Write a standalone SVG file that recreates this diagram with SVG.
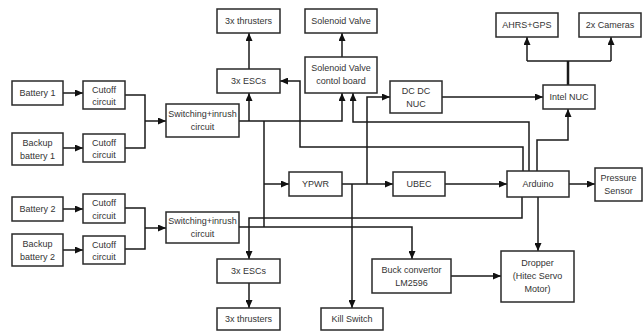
<svg xmlns="http://www.w3.org/2000/svg" width="643" height="331" viewBox="0 0 643 331">
<defs>
<marker id="ah" markerUnits="userSpaceOnUse" markerWidth="8" markerHeight="7" refX="8" refY="3.5" orient="auto">
<path d="M0,0 L8,3.5 L0,7 z" fill="#111"/>
</marker>
<style>
.box{fill:#fff;stroke:#2a2a2a;stroke-width:1.5}
.t{font-family:"Liberation Sans",Arial,sans-serif;font-size:9px;fill:#333;text-anchor:middle}
.c{fill:none;stroke:#1a1a1a;stroke-width:1.5}
.a{marker-end:url(#ah)}
</style>
</defs>
<rect width="643" height="331" fill="#fff"/>
<g id="connectors">
<path class="c a" d="M63,93 H83"/>
<path class="c a" d="M63,148 H83"/>
<path class="c" d="M125,95 H145 V148 H125"/>
<path class="c a" d="M145,121 H166"/>
<path class="c a" d="M63,209 H83"/>
<path class="c a" d="M63,250 H83"/>
<path class="c" d="M125,208 H145 V249 H125"/>
<path class="c a" d="M145,228 H166"/>
<path class="c a" d="M239,121 H342 V93"/>
<path class="c a" d="M249,121 V93"/>
<path class="c" d="M264,121 V227"/>
<path class="c a" d="M264,184 H289"/>
<path class="c a" d="M239,227 H412 V259"/>
<path class="c a" d="M249,69 V33"/>
<path class="c a" d="M342,57 V33"/>
<path class="c a" d="M342,184 H393"/>
<path class="c a" d="M352,184 V308"/>
<path class="c a" d="M367,184 V97 H390"/>
<path class="c a" d="M442,97 H543"/>
<path class="c" d="M568,85 V61" style="stroke-width:2.5"/>
<path class="c" d="M527,61 H611"/>
<path class="c a" d="M527,61 V37"/>
<path class="c a" d="M611,61 V37"/>
<path class="c a" d="M445,184 H507"/>
<path class="c a" d="M569,184 H595"/>
<path class="c a" d="M538,197 V251"/>
<path class="c a" d="M451,276 H501"/>
<path class="c a" d="M522,197 V218 H249 V259"/>
<path class="c a" d="M249,283 V308"/>
<path class="c a" d="M523,171 V147 H300 V81 H280"/>
<path class="c a" d="M529,171 V122 H353 V93"/>
<path class="c a" d="M537,171 V140 H568 V109"/>
</g>
<g id="battery1"><rect class="box" x="12" y="81" width="51" height="24"/><text class="t" x="37.5" y="96">Battery 1</text></g>
<g id="cutoff1"><rect class="box" x="83" y="81" width="42" height="28"/><text class="t" x="104" y="92.5">Cutoff</text><text class="t" x="104" y="105">circuit</text></g>
<g id="backup1"><rect class="box" x="12" y="133" width="51" height="32"/><text class="t" x="37.5" y="146">Backup</text><text class="t" x="37.5" y="159">battery 1</text></g>
<g id="cutoff2"><rect class="box" x="83" y="134" width="42" height="28"/><text class="t" x="104" y="145.5">Cutoff</text><text class="t" x="104" y="158">circuit</text></g>
<g id="switch1"><rect class="box" x="166" y="104" width="73" height="33"/><text class="t" x="202.5" y="117">Switching+inrush</text><text class="t" x="202.5" y="129.5">circuit</text></g>
<g id="battery2"><rect class="box" x="12" y="197" width="51" height="24"/><text class="t" x="37.5" y="212">Battery 2</text></g>
<g id="cutoff3"><rect class="box" x="83" y="194" width="42" height="29"/><text class="t" x="104" y="206">Cutoff</text><text class="t" x="104" y="218.5">circuit</text></g>
<g id="backup2"><rect class="box" x="12" y="234" width="51" height="32"/><text class="t" x="37.5" y="247">Backup</text><text class="t" x="37.5" y="260">battery 2</text></g>
<g id="cutoff4"><rect class="box" x="83" y="236" width="42" height="28"/><text class="t" x="104" y="247.5">Cutoff</text><text class="t" x="104" y="260">circuit</text></g>
<g id="switch2"><rect class="box" x="166" y="212" width="73" height="31"/><text class="t" x="202.5" y="224">Switching+inrush</text><text class="t" x="202.5" y="236.5">circuit</text></g>
<g id="thrusters-top"><rect class="box" x="217" y="9" width="63" height="24"/><text class="t" x="248.5" y="24">3x thrusters</text></g>
<g id="escs-top"><rect class="box" x="217" y="69" width="63" height="24"/><text class="t" x="248.5" y="84">3x ESCs</text></g>
<g id="solenoid"><rect class="box" x="305" y="9" width="72" height="24"/><text class="t" x="341" y="24">Solenoid Valve</text></g>
<g id="solenoid-board"><rect class="box" x="305" y="57" width="72" height="36"/><text class="t" x="341" y="71">Solenoid Valve</text><text class="t" x="341" y="84">contol board</text></g>
<g id="dcdc"><rect class="box" x="390" y="81" width="52" height="32"/><text class="t" x="416" y="94">DC DC</text><text class="t" x="416" y="107">NUC</text></g>
<g id="ahrs"><rect class="box" x="496" y="13" width="62" height="24"/><text class="t" x="527" y="28">AHRS+GPS</text></g>
<g id="cameras"><rect class="box" x="579" y="13" width="62" height="24"/><text class="t" x="610" y="28">2x Cameras</text></g>
<g id="nuc"><rect class="box" x="543" y="85" width="52" height="24"/><text class="t" x="569" y="100">Intel NUC</text></g>
<g id="ypwr"><rect class="box" x="289" y="172" width="53" height="24"/><text class="t" x="315.5" y="187">YPWR</text></g>
<g id="ubec"><rect class="box" x="393" y="172" width="52" height="24"/><text class="t" x="419" y="187">UBEC</text></g>
<g id="arduino"><rect class="box" x="507" y="171" width="62" height="26"/><text class="t" x="538" y="187">Arduino</text></g>
<g id="pressure"><rect class="box" x="595" y="168" width="47" height="33"/><text class="t" x="618.5" y="181">Pressure</text><text class="t" x="618.5" y="194">Sensor</text></g>
<g id="dropper"><rect class="box" x="501" y="251" width="73" height="51"/><text class="t" x="537.5" y="266">Dropper</text><text class="t" x="537.5" y="279">(Hitec Servo</text><text class="t" x="537.5" y="292">Motor)</text></g>
<g id="buck"><rect class="box" x="372" y="259" width="79" height="34"/><text class="t" x="411.5" y="272.5">Buck convertor</text><text class="t" x="411.5" y="285.5">LM2596</text></g>
<g id="escs-bottom"><rect class="box" x="217" y="259" width="63" height="24"/><text class="t" x="248.5" y="274">3x ESCs</text></g>
<g id="thrusters-bottom"><rect class="box" x="217" y="308" width="63" height="22"/><text class="t" x="248.5" y="322">3x thrusters</text></g>
<g id="killswitch"><rect class="box" x="321" y="308" width="62" height="22"/><text class="t" x="352" y="322">Kill Switch</text></g>
</svg>
